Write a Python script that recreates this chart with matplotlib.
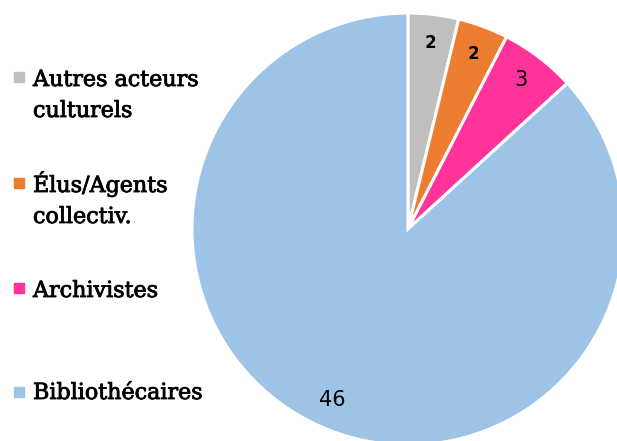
import matplotlib.pyplot as plt
import matplotlib.patheffects as pe

categories = ['Autres acteurs\nculturels', 'Élus/Agents\ncollectiv.', 'Archivistes', 'Bibliothécaires']
counts = [2, 2, 3, 46]
colors = ['#BFBFBF', '#ED7D31', '#FF3399', '#9DC3E6']

W, H = 617, 441
fig = plt.figure(figsize=(W / 100, H / 100), dpi=100)

# pie centre and radius in pixels
cx, cy, r = 408, 229, 216
ax = fig.add_axes([(cx - r) / W, (H - cy - r) / H, 2 * r / W, 2 * r / H])

total = sum(counts)
wedges, texts, autotexts = ax.pie(
    counts, colors=colors, startangle=90, counterclock=False,
    autopct=lambda p: '{:d}'.format(int(round(p * total / 100))),
    pctdistance=0.865,
    wedgeprops=dict(edgecolor='white', linewidth=2.2),
    textprops=dict(color='black', family='DejaVu Sans'))
for t, v in zip(autotexts, counts):
    if v == 2:
        t.set_fontsize(12)
        t.set_fontweight('bold')
    else:
        t.set_fontsize(15)
ax.set_xlim(-1, 1)
ax.set_ylim(-1, 1)
ax.set_aspect('equal')
ax.axis('off')

# legend drawn by hand on the left
marker_y = [77, 183, 288, 392]
baselines = [86, 192, 297, 399]
line_gap = 31
thicken = [pe.withStroke(linewidth=0.6, foreground='black')]
for lab, col, my, by in zip(categories, colors, marker_y, baselines):
    fig.patches.append(plt.Rectangle((14 / W, (H - my - 5) / H), 10 / W, 10 / H,
                                     transform=fig.transFigure, color=col,
                                     figure=fig))
    for i, line in enumerate(lab.split('\n')):
        fig.text(33 / W, (H - by - i * line_gap) / H, line, family='DejaVu Serif',
                 fontsize=16, va='baseline', ha='left', color='black',
                 path_effects=thicken)

fig.savefig('out.png', dpi=100)
